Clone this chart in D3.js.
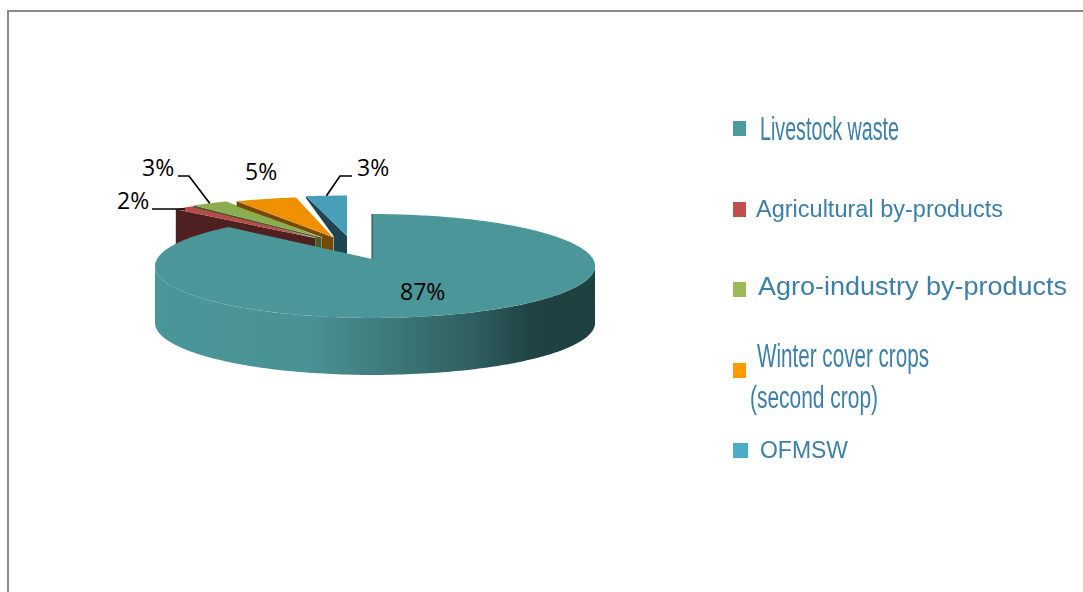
<!DOCTYPE html>
<html>
<head>
<meta charset="utf-8">
<script src="https://cdnjs.cloudflare.com/ajax/libs/d3/7.8.5/d3.min.js"></script>
<style>
    html, body { margin: 0; padding: 0; background: #fff; }
    svg { display: block; }
    .pct { font-family: "Open Sans", sans-serif; font-size: 23px; fill: #000; }
    .legend-text { font-family: "Liberation Sans", Arial, sans-serif; fill: #3c7fa8; filter: blur(0.4px); }
    .leader { fill: none; stroke: #000; stroke-width: 1.7; }
</style>
</head>
<body>
<div id="chart"></div>
<script>
"use strict";

// values
var categories = ['Livestock waste', 'Agricultural by-products', 'Agro-industry by-products', 'Winter cover crops', 'OFMSW'];
var values = [87, 2, 3, 5, 3];
var legendLines = [['Livestock waste'], ['Agricultural by-products'], ['Agro-industry by-products'], ['Winter cover crops', '(second crop)'], ['OFMSW']];

// colours
var swatchColors = ['#4b9a9e', '#c0504d', '#9bbb59', '#ff9900', '#4bacc6'];
var faceColors = ['#4a9698', '#b54c4c', '#8cac50', '#ee9000', '#4a9fb8'];
var wallColors = ['#1f4041', '#4f2020', '#4a5c28', '#774800', '#1f4550'];

// how the exploded slices sit: apex position on the page, scale of the sector,
// width of the visible cut wall and how far it drops at the outer corner
var apexX = [372, 315, 321.7, 333, 347];
var apexY = [259, 238, 237.5, 237.3, 236];
var scaleX = [1, 0.97, 1.03, 1.04, 1.15];
var scaleY = [1, 0.9, 0.9, 0.9, 0.9];
var wallInset = [0, null, 6.5, 11, 13.5];
var cornerDrop = [0, 0, 2, 5, 2];

// legend layout, one entry per text line
var legendSwatchX = 733;
var legendSwatchY = [121, 202, 282, 363, 443];
var legendSwatchW = [13, 13, 13, 13, 15];
var legendSwatchH = [15, 15, 15, 15, 15];
var legendX = [[760], [756], [758], [757, 750], [760]];
var legendY = [[140], [217], [295], [367, 408], [458]];
var legendLength = [[139], [247], [309], [172, 128], [88]];
var legendSize = [[33], [23], [25], [33, 31], [24]];

// percent labels and the elbows of their leaders
var labelX = [400, 117, 142, 245, 357];
var labelY = [300, 209, 176, 180, 176];
var leaderStart = [null, [152, 209], [178, 176], null, [352, 176]];
var leaderElbow = [null, null, [189, 176], null, [340, 176]];

var width = 1083;
var height = 592;
var depth = 57;
var radiusLeft = 215;
var radiusRight = 221;
var radiusY = 51;
var tilt = -0.1346;

var svg = d3.select('#chart').append('svg')
    .attr('width', width)
    .attr('height', height);

// frame, only top and left are in the picture
svg.append('path')
    .attr('d', d3.line()([[8, height], [8, 11], [width, 11]]))
    .attr('fill', 'none')
    .attr('stroke', '#8a8a8a')
    .attr('stroke-width', 2);

var defs = svg.append('defs');
var wallGradient = defs.append('linearGradient')
    .attr('id', 'mainWall')
    .attr('gradientUnits', 'userSpaceOnUse')
    .attr('x1', 155).attr('x2', 595)
    .attr('y1', 0).attr('y2', 0);

[[0, '#4a9698'], [0.35, '#4a9294'], [0.52, '#3f7b7c'], [0.72, '#2f5f60'], [0.86, '#1f4243'], [1, '#1f4041']].forEach(function (s) {
    wallGradient.append('stop').attr('offset', s[0]).attr('stop-color', s[1]);
});

var pie = d3.pie().sort(null).value(function (d) { return d; });
var arcs = pie(values);

// Angle on the pie to a point on the page. Dividing by w gives the pie a bit
// of perspective: the far half is flatter than the near half.
function project(angle, i) {
    var u = Math.sin(angle);
    var v = -Math.cos(angle);
    var w = 1 + tilt * v;
    var rx = u > 0 ? radiusRight : radiusLeft;
    return [
        apexX[i] + scaleX[i] * rx * u / w,
        apexY[i] + scaleY[i] * radiusY * v / w
    ];
}

function rimPoints(a0, a1, i) {
    var n = Math.max(2, Math.ceil(Math.abs(a1 - a0) / 0.02));
    return d3.range(n + 1).map(function (k) {
        return project(a0 + (a1 - a0) * k / n, i);
    });
}

var line = d3.line();
var lineClosed = function (pts) { return line(pts) + 'Z'; };

// exploded slices go first, the big slice hides their lower parts
var smallSlices = d3.range(1, arcs.length);

smallSlices.forEach(function (i) {
    var a = arcs[i];
    var corner = project(a.startAngle, i);
    var apex = [apexX[i], apexY[i]];
    var inner = wallInset[i] === null ? corner : [apex[0] - wallInset[i], apex[1]];

    svg.append('path')
        .attr('class', 'wall')
        .attr('d', lineClosed([
            corner,
            apex,
            [apex[0], apex[1] + depth],
            [inner[0], inner[1] + depth],
            inner,
            [corner[0], corner[1] + cornerDrop[i]]
        ]))
        .attr('fill', wallColors[i]);

    svg.append('path')
        .attr('class', 'slice')
        .attr('d', lineClosed(rimPoints(a.startAngle, a.endAngle, i).concat([apex])))
        .attr('fill', faceColors[i]);
});

var main = arcs[0];

// the wall runs between the two points where the rim is widest on the page,
// past those the top and bottom rims would cross
var widest = Math.acos(tilt);
var wallTop = rimPoints(widest, 2 * Math.PI - widest, 0);
var wallBottom = wallTop.map(function (p) { return [p[0], p[1] + depth]; }).reverse();

svg.append('path')
    .attr('class', 'wall')
    .attr('d', lineClosed(wallTop.concat(wallBottom)))
    .attr('fill', 'url(#mainWall)');

svg.append('path')
    .attr('class', 'slice')
    .attr('d', lineClosed(rimPoints(main.startAngle, main.endAngle, 0).concat([[apexX[0], apexY[0]]])))
    .attr('fill', faceColors[0]);

// thin dark cut edge on the right of the notch
svg.append('path')
    .attr('d', line([[apexX[0], apexY[0]], project(main.startAngle, 0)]))
    .attr('stroke', wallColors[0])
    .attr('stroke-width', 1);

// leaders run from the label to the middle of the slice rim
leaderStart.forEach(function (start, i) {
    if (!start) {
        return;
    }
    var end = project((arcs[i].startAngle + arcs[i].endAngle) / 2, i);
    var pts = leaderElbow[i] ? [start, leaderElbow[i], end] : [start, [end[0], start[1]]];
    svg.append('path')
        .attr('class', 'leader')
        .attr('d', line(pts));
});

svg.selectAll('.pct')
    .data(values)
    .enter().append('text')
        .attr('class', 'pct')
        .attr('x', function (d, i) { return labelX[i]; })
        .attr('y', function (d, i) { return labelY[i]; })
        .text(function (d) { return d + '%'; });

var legend = svg.selectAll('.legend')
    .data(categories)
    .enter().append('g')
        .attr('class', 'legend');

legend.append('rect')
    .attr('x', legendSwatchX)
    .attr('y', function (d, i) { return legendSwatchY[i]; })
    .attr('width', function (d, i) { return legendSwatchW[i]; })
    .attr('height', function (d, i) { return legendSwatchH[i]; })
    .attr('fill', function (d, i) { return swatchColors[i]; });

legend.each(function (d, i) {
    d3.select(this).selectAll('text')
        .data(legendLines[i])
        .enter().append('text')
            .attr('class', 'legend-text')
            .attr('x', function (t, j) { return legendX[i][j]; })
            .attr('y', function (t, j) { return legendY[i][j]; })
            .attr('font-size', function (t, j) { return legendSize[i][j]; })
            .attr('textLength', function (t, j) { return legendLength[i][j]; })
            .attr('lengthAdjust', 'spacingAndGlyphs')
            .text(function (t) { return t; });
});
</script>
</body>
</html>
